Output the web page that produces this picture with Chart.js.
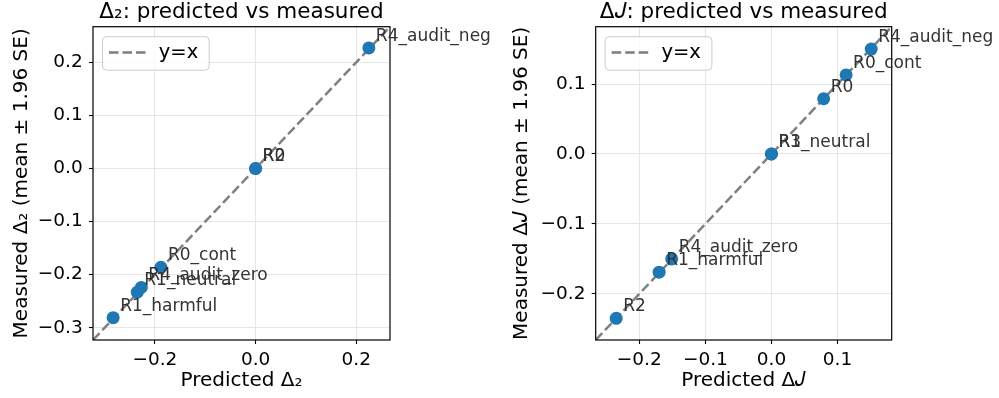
<!DOCTYPE html>
<html>
<head>
<meta charset="utf-8">
<script src="https://cdn.jsdelivr.net/npm/chart.js@4.4.1/dist/chart.umd.min.js"></script>
<style>
  html, body { margin: 0; padding: 0; background: #fff; }
  #wrap { position: relative; width: 999px; height: 398px; overflow: hidden; }
  canvas { position: absolute; top: 0; }
  #c1 { left: 0; }
  #c2 { left: 500px; }
</style>
</head>
<body>
<div id="wrap">
  <canvas id="c1" width="495" height="398"></canvas>
  <canvas id="c2" width="499" height="398"></canvas>
</div>
<script>
// values
const d2Names = ['R4_audit_neg', 'R0', 'R2', 'R0_cont', 'R4_audit_zero', 'R1_neutral', 'R1_harmful'];
const d2Predicted = [0.225, 0.0, 0.0, -0.188, -0.227, -0.235, -0.283];
const d2Measured = [0.227, 0.0, 0.0, -0.186, -0.224, -0.233, -0.281];
const d2Limits = [-0.323, 0.267];
const d2XTicks = [-0.2, 0.0, 0.2];
const d2YTicks = [-0.3, -0.2, -0.1, 0.0, 0.1, 0.2];

const dJNames = ['R4_audit_neg', 'R0_cont', 'R0', 'R1_neutral', 'R3', 'R4_audit_zero', 'R1_harmful', 'R2'];
const dJPredicted = [0.151, 0.113, 0.079, 0.0, 0.0, -0.151, -0.170, -0.235];
const dJMeasured = [0.150, 0.113, 0.079, 0.0, 0.0, -0.150, -0.169, -0.235];
const dJLimits = [-0.266, 0.182];
const dJXTicks = [-0.2, -0.1, 0.0, 0.1];
const dJYTicks = [-0.2, -0.1, 0.0, 0.1];

const FONT = "'DejaVu Sans', sans-serif";
const DASH = [9.5, 4];

// matplotlib style tick text: one decimal, real minus sign
const fmtTick = v => (Math.abs(v) < 1e-9 ? '0.0' : v.toFixed(1)).replace('-', '\u2212');

// legend frame + the four spines
const framePlugin = {
    id: 'frame',
    afterLayout(chart) {
        // a 'chartArea' legend gets top = 0 for vertical layout; pin it to the plot box
        const a = chart.chartArea;
        chart.legend.top = a.top;
        chart.legend.bottom = a.bottom;
    },
    afterDatasetsDraw(chart) {
        const { ctx, chartArea: a } = chart;
        ctx.save();
        ctx.beginPath();
        ctx.roundRect(a.left + 9.5, a.top + 10, 106.7, 33.5, 4);
        ctx.fillStyle = 'rgba(255, 255, 255, 0.8)';
        ctx.fill();
        ctx.strokeStyle = '#cccccc';
        ctx.lineWidth = 1;
        ctx.stroke();
        ctx.restore();
        chart.legend.draw();
        ctx.save();
        ctx.strokeStyle = '#000';
        ctx.lineWidth = 1.2;
        ctx.strokeRect(a.left, a.top, a.right - a.left, a.bottom - a.top);
        ctx.restore();
    }
};

// point labels, offset like annotate(xytext=(5, 5))
const annotatePlugin = {
    id: 'annotate',
    afterDatasetsDraw(chart, args, opts) {
        const ctx = chart.ctx;
        const meta = chart.getDatasetMeta(0);
        ctx.save();
        ctx.font = `17px ${FONT}`;
        ctx.fillStyle = '#333';
        ctx.textBaseline = 'alphabetic';
        ctx.textAlign = 'left';
        meta.data.forEach((pt, i) => ctx.fillText(opts.names[i], pt.x + 7, pt.y - 7));
        ctx.restore();
    }
};

// only the y=x line in the legend, drawn dashed like the data line
function legendLabels(chart) {
    const line = chart.data.datasets[1];
    return Chart.defaults.plugins.legend.labels.generateLabels(chart)
        .filter(item => item.datasetIndex === 1)
        .map(item => ({ ...item, lineDash: line.borderDash, strokeStyle: line.borderColor, lineWidth: line.borderWidth }));
}

function axis(ticks, limits, title, fit, isX) {
    return {
        type: 'linear',
        min: limits[0],
        max: limits[1],
        afterBuildTicks: s => { s.ticks = ticks.map(value => ({ value })); },
        afterFit: fit,
        ticks: {
            callback: fmtTick,
            color: '#000',
            font: { family: FONT, size: 18.5 },
            padding: isX ? 5 : 6.3,
            maxRotation: 0,
            autoSkip: false
        },
        grid: { color: '#e6e6e6', lineWidth: 1, tickColor: '#000', tickLength: 4, tickWidth: 1.1 },
        border: { display: false },
        title: {
            display: true,
            text: title,
            color: '#000',
            font: { family: FONT, size: 20 },
            padding: isX ? { top: 0, bottom: 5 } : { top: 10, bottom: 0 }
        }
    };
}

function makeChart(id, cfg) {
    return new Chart(document.getElementById(id), {
        type: 'scatter',
        data: {
            datasets: [
                {
                    label: 'points',
                    data: cfg.pred.map((x, i) => ({ x, y: cfg.meas[i] })),
                    backgroundColor: '#1f77b4',
                    borderWidth: 0,
                    pointRadius: 6.5,
                    pointHoverRadius: 6.5
                },
                {
                    label: 'y=x',
                    type: 'line',
                    data: cfg.limits.map(v => ({ x: v, y: v })),
                    borderColor: '#808080',
                    borderWidth: 2.5,
                    borderDash: DASH,
                    pointRadius: 0,
                    fill: false
                }
            ]
        },
        options: {
            responsive: false,
            animation: false,
            devicePixelRatio: 1,
            layout: { padding: { left: 0, top: 0, bottom: 0, right: cfg.padRight } },
            plugins: {
                title: {
                    display: true,
                    text: cfg.title,
                    fullSize: false,
                    color: '#000',
                    font: { family: FONT, size: 21.5, weight: 'normal', lineHeight: 1 },
                    padding: { top: 2, bottom: 3.2 }
                },
                legend: {
                    position: 'chartArea',
                    align: 'start',
                    labels: {
                        generateLabels: legendLabels,
                        usePointStyle: true,
                        pointStyle: 'line',
                        pointStyleWidth: 40,
                        color: '#000',
                        padding: 16,
                        font: { family: FONT, size: 19.5 }
                    }
                },
                tooltip: { enabled: false },
                annotate: { names: cfg.names }
            },
            scales: {
                x: axis(cfg.xTicks, cfg.limits, cfg.xTitle, s => { s.height = 58; }, true),
                y: axis(cfg.yTicks, cfg.limits, cfg.yTitle, s => { s.width = cfg.yWidth; }, false)
            }
        },
        plugins: [framePlugin, annotatePlugin]
    });
}

makeChart('c1', {
    names: d2Names, pred: d2Predicted, meas: d2Measured, limits: d2Limits,
    xTicks: d2XTicks, yTicks: d2YTicks,
    title: '\u0394\u2082: predicted vs measured',
    xTitle: 'Predicted \u0394\u2082',
    yTitle: 'Measured \u0394\u2082 (mean \u00b1 1.96 SE)',
    yWidth: 93, padRight: 105
});

makeChart('c2', {
    names: dJNames, pred: dJPredicted, meas: dJMeasured, limits: dJLimits,
    xTicks: dJXTicks, yTicks: dJYTicks,
    title: '\u0394\u{1D43D}: predicted vs measured',
    xTitle: 'Predicted \u0394\u{1D43D}',
    yTitle: 'Measured \u0394\u{1D43D} (mean \u00b1 1.96 SE)',
    yWidth: 95.7, padRight: 107.3
});
</script>
</body>
</html>
